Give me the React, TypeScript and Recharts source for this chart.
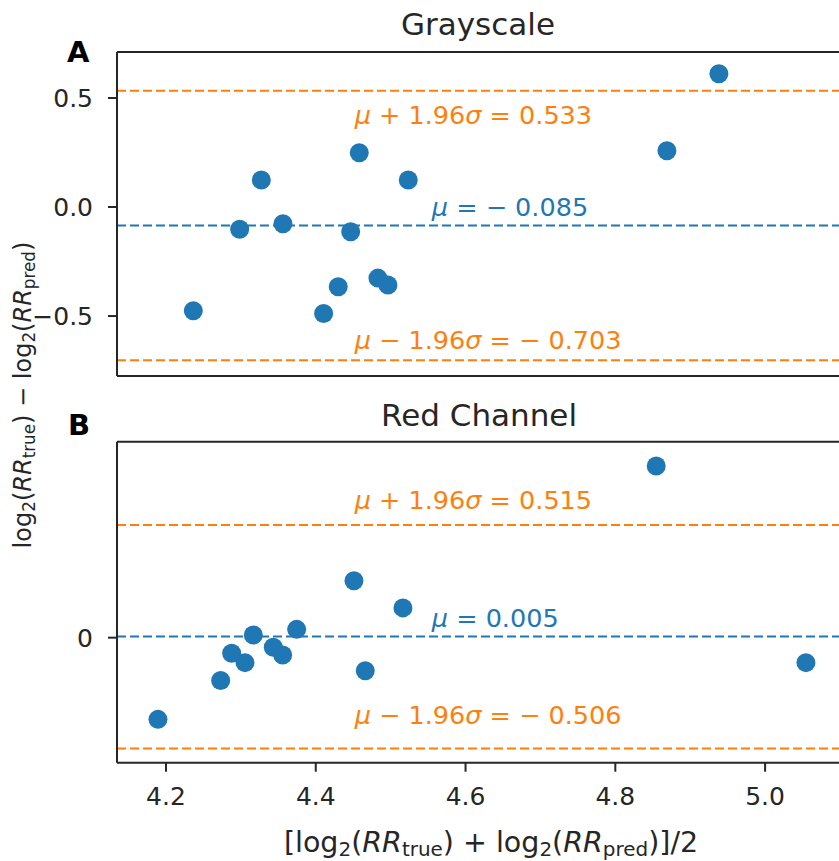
import React from 'react';
import { ScatterChart, Scatter, XAxis, YAxis, ReferenceLine } from 'recharts';

// ---- data ----
const xTicks = [4.2, 4.4, 4.6, 4.8, 5.0];
const xDomain = [4.1346, 5.1];

const grayX = [4.2365, 4.2984, 4.3273, 4.3562, 4.4105, 4.43, 4.4466, 4.4581, 4.483, 4.4964, 4.5235, 4.8689, 4.9383];
const grayY = [-0.476, -0.102, 0.124, -0.077, -0.488, -0.366, -0.113, 0.249, -0.326, -0.358, 0.124, 0.258, 0.611];
const grayYTicks = [-0.5, 0, 0.5];
const grayYDomain = [-0.775, 0.711];
const grayMean = -0.085;
const grayLimits = [0.533, -0.703];
const grayNoteX = [4.452, 4.555, 4.452];
const grayNoteY = [0.422, 0.0, -0.61];
const grayNoteText = ['μ + 1.96σ = 0.533', 'μ = − 0.085', 'μ − 1.96σ = − 0.703'];
const grayNoteKind = ['limit', 'mean', 'limit'];

const redX = [4.1893, 4.273, 4.2877, 4.3055, 4.3166, 4.3433, 4.3558, 4.3745, 4.451, 4.4661, 4.5164, 4.8546, 5.0545];
const redY = [-0.373, -0.196, -0.071, -0.114, 0.012, -0.044, -0.079, 0.038, 0.26, -0.151, 0.136, 0.784, -0.114];
const redYTicks = [0];
const redYDomain = [-0.571, 0.895];
const redMean = 0.005;
const redLimits = [0.515, -0.506];
const redNoteX = [4.452, 4.555, 4.452];
const redNoteY = [0.629, 0.09, -0.353];
const redNoteText = ['μ + 1.96σ = 0.515', 'μ = 0.005', 'μ − 1.96σ = − 0.506'];
const redNoteKind = ['limit', 'mean', 'limit'];

// ---- styles ----
const BLUE = '#1f77b4';
const ORANGE = '#ff7f0e';
const INK = '#262626';
const FONT = '"DejaVu Sans", sans-serif';

function mathParts(s: string) {
  const out: React.ReactNode[] = [];
  let buf = '';
  let k = 0;
  for (const ch of s) {
    if (ch === 'μ' || ch === 'σ') {
      if (buf) out.push(<tspan key={k++}>{buf}</tspan>);
      buf = '';
      out.push(<tspan key={k++} fontStyle="italic">{ch}</tspan>);
    } else buf += ch;
  }
  if (buf) out.push(<tspan key={k++}>{buf}</tspan>);
  return out;
}

const Dot = (p: any) => <circle cx={p.cx} cy={p.cy} r={9.5} fill={BLUE} />;

const Note = (p: any) => (
  <text
    x={p.cx}
    y={p.cy}
    dy="0.36em"
    textAnchor="start"
    fontFamily={FONT}
    fontSize={25.5}
    fill={p.payload.kind === 'mean' ? BLUE : ORANGE}
    style={{ whiteSpace: 'pre' }}
  >
    {mathParts(p.payload.text)}
  </text>
);

type PanelProps = {
  xs: number[];
  ys: number[];
  yDomain: number[];
  yTicks: number[];
  yFmt: (v: number) => string;
  mean: number;
  limits: number[];
  noteX: number[];
  noteY: number[];
  noteText: string[];
  noteKind: string[];
  showXLabels: boolean;
  height: number;
  top: number;
  bottom: number;
  xAxisHeight: number;
};

function Panel(props: PanelProps) {
  const pts = props.xs.map((x, i) => ({ x, y: props.ys[i] }));
  const notes = props.noteX.map((x, i) => ({ x, y: props.noteY[i], text: props.noteText[i], kind: props.noteKind[i] }));
  const tickStyle = { fontFamily: FONT, fontSize: 25, fill: INK };
  return (
    <ScatterChart
      width={900}
      height={props.height}
      margin={{ top: props.top, right: 60, bottom: props.bottom, left: 0 }}
    >
      <XAxis
        type="number"
        dataKey="x"
        domain={xDomain}
        ticks={xTicks}
        allowDataOverflow
        height={props.xAxisHeight}
        tickSize={9}
        tickMargin={16}
        tick={props.showXLabels ? tickStyle : false}
        tickFormatter={(v: number) => v.toFixed(1)}
        axisLine={{ stroke: INK, strokeWidth: 2 }}
        tickLine={{ stroke: INK, strokeWidth: 2 }}
      />
      <YAxis
        type="number"
        dataKey="y"
        domain={props.yDomain}
        ticks={props.yTicks}
        allowDataOverflow
        width={117}
        tickSize={9}
        tickMargin={15}
        tick={tickStyle}
        tickFormatter={props.yFmt}
        axisLine={{ stroke: INK, strokeWidth: 2 }}
        tickLine={{ stroke: INK, strokeWidth: 2 }}
      />
      {/* top spine */}
      <ReferenceLine y={props.yDomain[1]} stroke={INK} strokeWidth={2} />
      {props.limits.map((v, i) => (
        <ReferenceLine key={'l' + i} y={v} stroke={ORANGE} strokeWidth={2} strokeDasharray="9 4" />
      ))}
      <ReferenceLine y={props.mean} stroke={BLUE} strokeWidth={2} strokeDasharray="9 4" />
      <Scatter data={pts} shape={Dot} isAnimationActive={false} />
      <Scatter data={notes} shape={Note} isAnimationActive={false} />
    </ScatterChart>
  );
}

const fmtGray = (v: number) => (v < 0 ? '−' + Math.abs(v).toFixed(1) : v.toFixed(1));
const fmtRed = (v: number) => String(v);

const sub = (t: string, key: string) => (
  <tspan key={key} fontSize="0.7em" dy="0.22em">{t}</tspan>
);

export default function App() {
  return (
    <div style={{ position: 'fixed', left: 0, top: 0, width: 839, height: 861, overflow: 'hidden', background: '#fff' }}>
      <div style={{ position: 'absolute', left: 0, top: 0 }}>
        <Panel
          xs={grayX}
          ys={grayY}
          yDomain={grayYDomain}
          yTicks={grayYTicks}
          yFmt={fmtGray}
          mean={grayMean}
          limits={grayLimits}
          noteX={grayNoteX}
          noteY={grayNoteY}
          noteText={grayNoteText}
          noteKind={grayNoteKind}
          showXLabels={false}
          height={400}
          top={52}
          bottom={0}
          xAxisHeight={24}
        />
      </div>
      <div style={{ position: 'absolute', left: 0, top: 400 }}>
        <Panel
          xs={redX}
          ys={redY}
          yDomain={redYDomain}
          yTicks={redYTicks}
          yFmt={fmtRed}
          mean={redMean}
          limits={redLimits}
          noteX={redNoteX}
          noteY={redNoteY}
          noteText={redNoteText}
          noteKind={redNoteKind}
          showXLabels={true}
          height={461}
          top={41.7}
          bottom={48.3}
          xAxisHeight={50}
        />
      </div>
      <svg width={839} height={861} style={{ position: 'absolute', left: 0, top: 0, pointerEvents: 'none' }}>
        <text x={478} y={35} textAnchor="middle" fontFamily={FONT} fontSize={31} fill={INK}>Grayscale</text>
        <text x={479} y={426} textAnchor="middle" fontFamily={FONT} fontSize={31} fill={INK}>Red Channel</text>
        <text x={67} y={61.5} fontFamily={FONT} fontWeight="bold" fontSize={29} fill="#000">A</text>
        <text x={68} y={435} fontFamily={FONT} fontWeight="bold" fontSize={29} fill="#000">B</text>
        <text
          transform="translate(31,395) rotate(-90)"
          textAnchor="middle"
          fontFamily={FONT}
          fontSize={24}
          fill={INK}
          style={{ whiteSpace: 'pre' }}
        >
          <tspan>log</tspan>
          {sub('2', 'a')}
          <tspan dy="-0.154em">(</tspan>
          <tspan fontStyle="italic">RR</tspan>
          {sub('true', 'b')}
          <tspan dy="-0.154em">) − log</tspan>
          {sub('2', 'c')}
          <tspan dy="-0.154em">(</tspan>
          <tspan fontStyle="italic">RR</tspan>
          {sub('pred', 'd')}
          <tspan dy="-0.154em">)</tspan>
        </text>
        <text x={491} y={852} textAnchor="middle" fontFamily={FONT} fontSize={28.5} fill={INK} style={{ whiteSpace: 'pre' }}>
          <tspan>[log</tspan>
          {sub('2', 'e')}
          <tspan dy="-0.154em">(</tspan>
          <tspan fontStyle="italic">RR</tspan>
          {sub('true', 'f')}
          <tspan dy="-0.154em">) + log</tspan>
          {sub('2', 'g')}
          <tspan dy="-0.154em">(</tspan>
          <tspan fontStyle="italic">RR</tspan>
          {sub('pred', 'h')}
          <tspan dy="-0.154em">)]/2</tspan>
        </text>
      </svg>
    </div>
  );
}
